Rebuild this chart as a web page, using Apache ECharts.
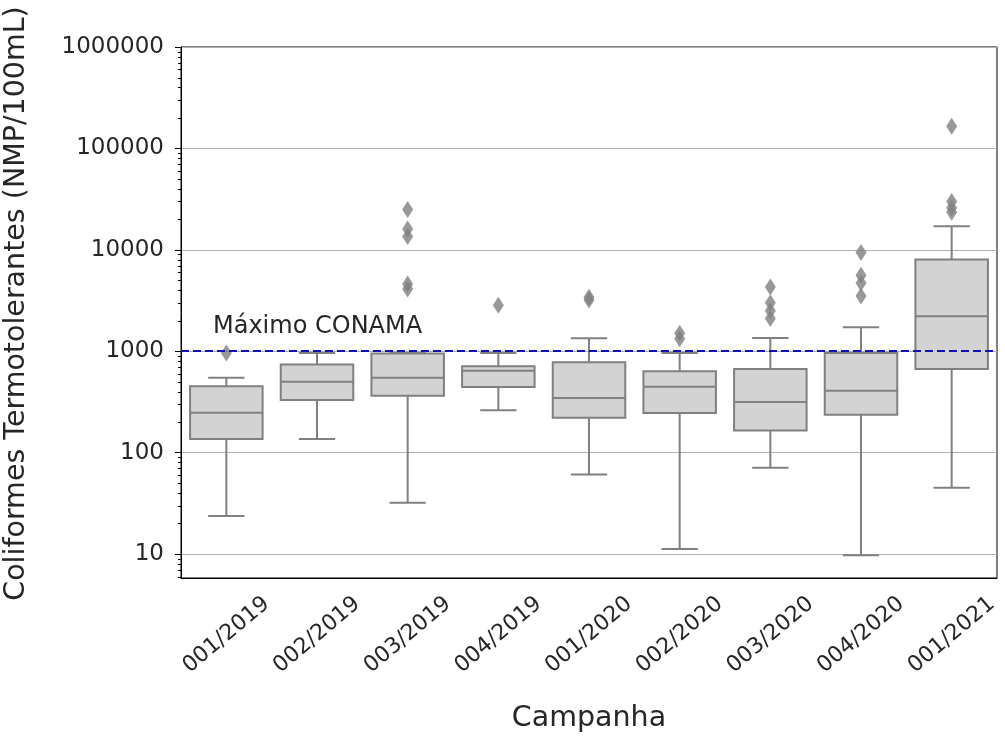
<!DOCTYPE html>
<html>
<head>
<meta charset="utf-8">
<script src="https://cdn.jsdelivr.net/npm/echarts@6/dist/echarts.min.js"></script>
<style>
  html, body { margin: 0; padding: 0; background: #fff; }
  #chart { width: 1005px; height: 745px; }
</style>
</head>
<body>
<div id="chart"></div>
<script>
// campanhas (eixo x)
var campanhas = ["001/2019", "002/2019", "003/2019", "004/2019", "001/2020",
                 "002/2020", "003/2020", "004/2020", "001/2021"];

// estatisticas das caixas (NMP/100mL)
var bigodeInf = [23.7, 136, 32, 261, 61, 11.2, 71, 9.7, 45];
var quartil1  = [136, 330, 364, 444, 221, 246, 165, 236, 668];
var mediana   = [247, 501, 548, 643, 346, 447, 315, 408, 2210];
var quartil3  = [450, 738, 947, 709, 777, 633, 668, 962, 8040];
var bigodeSup = [548, 960, 960, 960, 1340, 960, 1350, 1720, 17100];

// pontos fora das caixas
var outliers = [
  [960],
  [],
  [25000, 16000, 13500, 4600, 4100],
  [2840],
  [3400, 3200],
  [1500, 1330],
  [4300, 3000, 2500, 2100],
  [9400, 5600, 4700, 3500],
  [165000, 30000, 26000, 23500]
];

var limiteConama = 1000;
var ticksY = [10, 100, 1000, 10000, 100000, 1000000];
var decadas = [1, 10, 100, 1000, 10000, 100000];
var passosMenores = [2, 3, 4, 5, 6, 7, 8, 9];

var fonte = "DejaVu Sans";
var corTexto = "#262626";
var corLinha = "#808080";

// monta os dados para as series
var caixas = campanhas.map(function (c, i) {
  return [i, bigodeInf[i], quartil1[i], mediana[i], quartil3[i], bigodeSup[i]];
});
var pontos = [];
outliers.forEach(function (lista, i) {
  lista.forEach(function (v) { pontos.push([i, v]); });
});
// marcas menores do eixo log
var ticksMenores = [];
decadas.forEach(function (d) {
  passosMenores.forEach(function (p) {
    if (d * p >= 5.8) ticksMenores.push([0, d * p]);
  });
});

function desenhaCaixa(params, api) {
  var i = api.value(0);
  var lo = api.coord([i, api.value(1)]);
  var q1 = api.coord([i, api.value(2)]);
  var md = api.coord([i, api.value(3)]);
  var q3 = api.coord([i, api.value(4)]);
  var hi = api.coord([i, api.value(5)]);
  var banda = api.size([1, 1])[0];
  var bw = banda * 0.8;
  var cw = bw * 0.5;
  var x = lo[0];
  var estilo = { stroke: corLinha, lineWidth: 2, fill: null };
  return {
    type: "group",
    children: [
      { type: "line", shape: { x1: x, y1: q1[1], x2: x, y2: lo[1] }, style: estilo },
      { type: "line", shape: { x1: x, y1: q3[1], x2: x, y2: hi[1] }, style: estilo },
      { type: "line", shape: { x1: x - cw / 2, y1: lo[1], x2: x + cw / 2, y2: lo[1] }, style: estilo },
      { type: "line", shape: { x1: x - cw / 2, y1: hi[1], x2: x + cw / 2, y2: hi[1] }, style: estilo },
      { type: "rect", shape: { x: x - bw / 2, y: q3[1], width: bw, height: q1[1] - q3[1] },
        style: { fill: "#d3d3d3", stroke: corLinha, lineWidth: 2 } },
      { type: "line", shape: { x1: x - bw / 2, y1: md[1], x2: x + bw / 2, y2: md[1] }, style: estilo }
    ]
  };
}

function desenhaTickMenor(params, api) {
  var p = api.coord([0, api.value(1)]);
  var x0 = Math.round(p[0] - api.size([1, 1])[0] / 2) + 0.5;
  var y = Math.round(p[1]) + 0.5;
  return {
    type: "line",
    shape: { x1: x0 - 3.5, y1: y, x2: x0, y2: y },
    style: { stroke: "#000", lineWidth: 1 }
  };
}

var chart = echarts.init(document.getElementById("chart"));

var options = {
  backgroundColor: "#fff",
  animation: false,
  textStyle: { fontFamily: fonte },
  grid: {
    left: 181, right: 8, top: 47, bottom: 167,
    containLabel: false,
    outerBoundsMode: "none",
    show: true, borderColor: "#000", borderWidth: 1, backgroundColor: "transparent"
  },
  xAxis: {
    type: "category",
    data: campanhas,
    boundaryGap: true,
    name: "Campanha",
    nameLocation: "middle",
    nameGap: 126,
    nameTextStyle: { fontSize: 28.5, color: corTexto, fontFamily: fonte },
    axisLine: { lineStyle: { color: "#000", width: 1 } },
    axisTick: { alignWithLabel: true, length: 6, lineStyle: { color: "#000" } },
    axisLabel: {
      rotate: 40, fontSize: 22, color: corTexto, fontFamily: fonte,
      align: "center", verticalAlign: "middle", margin: 57
    },
    splitLine: { show: false }
  },
  yAxis: {
    type: "log",
    logBase: 10,
    min: 5.8,
    max: 1000000,
    name: "Coliformes Termotolerantes (NMP/100mL)",
    nameLocation: "middle",
    nameGap: 150,
    nameTextStyle: { fontSize: 28.5, color: corTexto, fontFamily: fonte, padding: [0, 0, 0, 18] },
    axisLine: { show: true, lineStyle: { color: "#000", width: 1 } },
    axisTick: { show: true, length: 6, lineStyle: { color: "#000" } },
    axisLabel: {
      showMinLabel: false,
      fontSize: 23, color: corTexto, fontFamily: fonte, margin: 17,
      formatter: function (v) {
        var r = Math.round(v);
        return ticksY.indexOf(r) >= 0 ? String(r) : "";
      }
    },
    splitLine: { show: true, lineStyle: { color: "#b0b0b0", width: 1 } }
  },
  series: [
    {
      type: "custom",
      name: "ticksMenores",
      renderItem: desenhaTickMenor,
      encode: { x: 0, y: 1 },
      data: ticksMenores,
      clip: false,
      silent: true,
      z: 1
    },
    {
      type: "custom",
      name: "caixas",
      renderItem: desenhaCaixa,
      encode: { x: 0, y: [1, 2, 3, 4, 5] },
      data: caixas,
      z: 2
    },
    {
      type: "scatter",
      name: "outliers",
      symbol: "diamond",
      symbolSize: [11, 17],
      itemStyle: { color: "#7f7f7f" },
      data: pontos,
      z: 3,
      markLine: {
        silent: true,
        symbol: "none",
        lineStyle: { color: "#1010b8", type: [8, 4], width: 2 },
        label: {
          show: true,
          position: "insideStartTop",
          formatter: "Máximo CONAMA",
          fontSize: 24,
          color: corTexto,
          fontFamily: fonte,
          distance: [32, 12]
        },
        data: [{ yAxis: limiteConama }]
      }
    }
  ]
};

chart.setOption(options);
</script>
</body>
</html>
